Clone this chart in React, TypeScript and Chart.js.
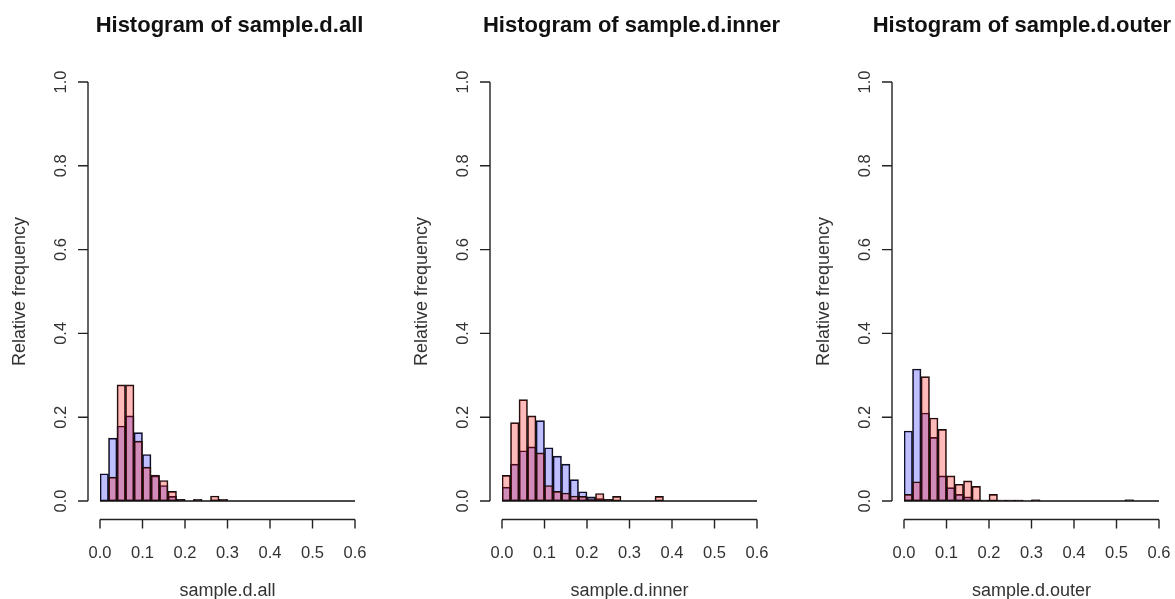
import React, { useEffect, useRef } from "react";
import { Chart, registerables } from "chart.js";

Chart.register(...registerables);

// bin breaks (width 0.02) from 0 to 0.6
const binEdges = [
  0, 0.02, 0.04, 0.06, 0.08, 0.1, 0.12, 0.14, 0.16, 0.18, 0.2, 0.22, 0.24, 0.26, 0.28, 0.3,
  0.32, 0.34, 0.36, 0.38, 0.4, 0.42, 0.44, 0.46, 0.48, 0.5, 0.52, 0.54, 0.56, 0.58, 0.6,
];
const xTickValues = [0, 0.1, 0.2, 0.3, 0.4, 0.5, 0.6];
const xTickLabels = ["0.0", "0.1", "0.2", "0.3", "0.4", "0.5", "0.6"];
const yTickValues = [0, 0.2, 0.4, 0.6, 0.8, 1.0];
const yTickLabels = ["0.0", "0.2", "0.4", "0.6", "0.8", "1.0"];

// relative frequencies per bin (30 bins)
const allBlue = [
  0.065, 0.15, 0.179, 0.203, 0.163, 0.111, 0.06, 0.037, 0.011, 0.004, 0, 0.003, 0, 0.003, 0.003,
  0, 0, 0, 0, 0, 0, 0, 0, 0, 0, 0, 0, 0, 0, 0,
];
const allRed = [
  0, 0.057, 0.277, 0.277, 0.143, 0.081, 0.062, 0.049, 0.023, 0.004, 0, 0.004, 0, 0.012, 0.004,
  0, 0, 0, 0, 0, 0, 0, 0, 0, 0, 0, 0, 0, 0, 0,
];
const innerBlue = [
  0.033, 0.088, 0.12, 0.129, 0.192, 0.127, 0.107, 0.088, 0.051, 0.022, 0.01, 0.006, 0.004, 0, 0,
  0, 0, 0, 0, 0, 0, 0, 0, 0, 0, 0, 0, 0, 0, 0,
];
const innerRed = [
  0.061, 0.187, 0.242, 0.203, 0.115, 0.037, 0.023, 0.019, 0.012, 0.011, 0.005, 0.018, 0.004, 0.011, 0,
  0, 0, 0, 0.011, 0, 0, 0, 0, 0, 0, 0, 0, 0, 0, 0,
];
const outerBlue = [
  0.167, 0.315, 0.21, 0.152, 0.06, 0.032, 0.016, 0.01, 0.002, 0.002, 0, 0.002, 0.002, 0.002, 0,
  0.003, 0, 0, 0, 0, 0, 0, 0, 0, 0, 0, 0.003, 0, 0, 0,
];
const outerRed = [
  0.016, 0.046, 0.297, 0.198, 0.171, 0.06, 0.04, 0.048, 0.035, 0.002, 0.016, 0.002, 0.002, 0.002, 0,
  0.003, 0, 0, 0, 0, 0, 0, 0, 0, 0, 0, 0.003, 0, 0, 0,
];

const titles = ["Histogram of sample.d.all", "Histogram of sample.d.inner", "Histogram of sample.d.outer"];
const xLabels = ["sample.d.all", "sample.d.inner", "sample.d.outer"];
const yLabel = "Relative frequency";
const blueSeries = [allBlue, innerBlue, outerBlue];
const redSeries = [allRed, innerRed, outerRed];

const binLabels = binEdges.slice(0, -1).map((e, i) => `${e.toFixed(2)}-${binEdges[i + 1].toFixed(2)}`);

const FONT = '"Liberation Sans", Arial, Helvetica, sans-serif';
const PAGE_W = 1175;
const PANEL_STEP = 402;
const CANVAS_W = 402;
const CANVAS_H = 599;

const axesPlugin = {
  id: "rAxes",
  afterDraw(chart: any) {
    const ctx = chart.ctx as CanvasRenderingContext2D;
    const xs = chart.scales.xv;
    const ys = chart.scales.y;
    const opts = chart.options.plugins.rAxes;
    const area = chart.chartArea;
    const x0 = xs.getPixelForValue(xTickValues[0]);
    const x1 = xs.getPixelForValue(xTickValues[xTickValues.length - 1]);
    const y0 = ys.getPixelForValue(yTickValues[0]);
    const y1 = ys.getPixelForValue(yTickValues[yTickValues.length - 1]);
    ctx.save();
    // baseline of histogram (zero-height bins)
    ctx.strokeStyle = "#111";
    ctx.lineWidth = 1.3;
    ctx.beginPath();
    ctx.moveTo(x0, y0);
    ctx.lineTo(x1, y0);
    ctx.stroke();

    // y axis (detached)
    const ax = area.left - 12;
    ctx.lineWidth = 1.4;
    ctx.strokeStyle = "#222";
    ctx.beginPath();
    ctx.moveTo(ax, y0);
    ctx.lineTo(ax, y1);
    yTickValues.forEach((v) => {
      const y = ys.getPixelForValue(v);
      ctx.moveTo(ax, y);
      ctx.lineTo(ax - 10, y);
    });
    ctx.stroke();
    ctx.fillStyle = "#333";
    ctx.font = `16.5px ${FONT}`;
    ctx.textAlign = "center";
    ctx.textBaseline = "alphabetic";
    yTickValues.forEach((v, i) => {
      const y = ys.getPixelForValue(v);
      ctx.save();
      ctx.translate(ax - 22.5, y);
      ctx.rotate(-Math.PI / 2);
      ctx.fillText(yTickLabels[i], 0, 0);
      ctx.restore();
    });

    // x axis (detached)
    const ay = area.bottom + 18.5;
    ctx.beginPath();
    ctx.moveTo(x0, ay);
    ctx.lineTo(x1, ay);
    xTickValues.forEach((v) => {
      const x = xs.getPixelForValue(v);
      ctx.moveTo(x, ay);
      ctx.lineTo(x, ay + 9);
    });
    ctx.stroke();
    xTickValues.forEach((v, i) => {
      const x = xs.getPixelForValue(v);
      ctx.fillText(xTickLabels[i], x, ay + 38);
    });

    // axis titles
    const cx = (area.left + area.right) / 2;
    ctx.font = `18px ${FONT}`;
    ctx.fillText(opts.xlabel, cx, CANVAS_H - 3);
    ctx.save();
    ctx.translate(25, (y0 + y1) / 2);
    ctx.rotate(-Math.PI / 2);
    ctx.fillText(yLabel, 0, 0);
    ctx.restore();

    // main title (kept inside the visible page)
    ctx.fillStyle = "#111";
    ctx.font = `bold 22px ${FONT}`;
    const tw = ctx.measureText(opts.title).width;
    let tx = cx + 2;
    const maxRight = opts.visibleWidth - 4;
    if (tx + tw / 2 > maxRight) tx = maxRight - tw / 2;
    ctx.fillText(opts.title, tx, 32);
    ctx.restore();
  },
};

function Panel({ index }: { index: number }) {
  const ref = useRef<HTMLCanvasElement | null>(null);
  useEffect(() => {
    if (!ref.current) return;
    const common = {
      borderColor: "#111",
      borderWidth: 1,
      borderSkipped: false,
      grouped: false,
      categoryPercentage: 1,
      barPercentage: 1,
      xAxisID: "x",
      yAxisID: "y",
    };
    const chart = new Chart(ref.current, {
      type: "bar",
      data: {
        labels: binLabels,
        datasets: [
          { ...common, label: "red", data: redSeries[index], backgroundColor: "rgba(255,0,0,0.27)", order: 0 },
          { ...common, label: "blue", data: blueSeries[index], backgroundColor: "rgba(0,0,255,0.25)", order: 1 },
        ] as any,
      },
      options: {
        responsive: false,
        animation: false,
        devicePixelRatio: 1,
        layout: { padding: { left: 100, right: CANVAS_W - 355, top: 82, bottom: CANVAS_H - 501 } },
        plugins: {
          legend: { display: false },
          tooltip: { enabled: false },
          title: { display: false },
          rAxes: {
            title: titles[index],
            xlabel: xLabels[index],
            visibleWidth: Math.min(CANVAS_W, PAGE_W - index * PANEL_STEP),
          },
        } as any,
        scales: {
          x: { type: "category", display: false, offset: true, grid: { display: false, offset: true } },
          xv: {
            type: "linear",
            min: 0,
            max: 0.6,
            display: false,
            offset: false,
            position: "bottom",
            grid: { display: false, offset: false },
          },
          y: { type: "linear", min: 0, max: 1, display: false },
        },
      },
      plugins: [axesPlugin],
    });
    return () => chart.destroy();
  }, [index]);
  return (
    <canvas
      ref={ref}
      width={CANVAS_W}
      height={CANVAS_H}
      style={{ position: "absolute", left: index * PANEL_STEP, top: 0, width: CANVAS_W, height: CANVAS_H }}
    />
  );
}

export default function App() {
  return (
    <div
      style={{
        position: "fixed",
        left: 0,
        top: 0,
        width: PAGE_W,
        height: 599,
        background: "#fff",
        overflow: "hidden",
      }}
    >
      {[0, 1, 2].map((i) => (
        <Panel key={i} index={i} />
      ))}
    </div>
  );
}
